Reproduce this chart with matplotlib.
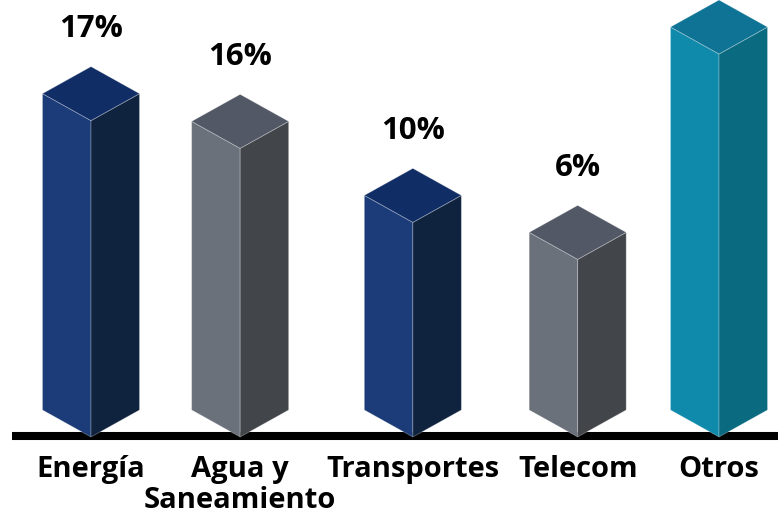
import matplotlib
matplotlib.use('Agg')
import matplotlib.pyplot as plt
from matplotlib.patches import Polygon

# =========================
# Datos
# =========================
categorias = ['Energía', 'Agua y\nSaneamiento', 'Transportes', 'Telecom', 'Otros']
etiquetas = ['17%', '16%', '10%', '6%', '']
# altura visual de cada barra
altura = [17.1, 15.6, 11.6, 9.6, 20.7]

# =========================
# Estilo / layout
# =========================
pos = [0, 0.95, 2.05, 3.10, 4.0]
azul = ('#1b3c78', '#0f233f', '#112d66')
gris = ('#6b717a', '#42464b', '#525865')
turq = ('#108aaa', '#0a6a80', '#0e7394')
colores = [azul, gris, azul, gris, turq]

w = 0.309    # media anchura de la barra
dy = 1.46    # inclinacion isometrica

plt.rcParams['font.family'] = ['Open Sans', 'DejaVu Sans']

fig = plt.figure(figsize=(7.78, 5.2), dpi=100)
ax = fig.add_axes([0, 0, 1, 1])
ax.set_xlim(-0.5796, 4.3758)
ax.set_ylim(-4.486, 23.62)
ax.axis('off')

# linea base
ax.plot([-0.50, 4.3758], [0.05, 0.05], color='black', lw=5.8,
        solid_capstyle='butt', zorder=1)

for c, h, col, et, cat in zip(pos, altura, colores, etiquetas, categorias):
    frente = [(c - w, dy), (c, 0), (c, h), (c - w, h + dy)]
    lado = [(c, 0), (c + w, dy), (c + w, h + dy), (c, h)]
    tapa = [(c - w, h + dy), (c, h), (c + w, h + dy), (c, h + 2 * dy)]
    for pts, fc in zip([frente, lado, tapa], col):
        ax.add_patch(Polygon(pts, closed=True, facecolor=fc,
                             edgecolor=(1, 1, 1, 0.3), lw=0.6, zorder=2))
    if et:
        ax.text(c, h + 2 * dy + 1.6, et, ha='center', va='baseline',
                fontsize=22.5, fontweight='bold', color='black')
    ax.text(c, -0.95, cat, ha='center', va='top', fontsize=21,
            fontweight='bold', color='black', linespacing=1.12)

fig.savefig('out.png', dpi=100)
